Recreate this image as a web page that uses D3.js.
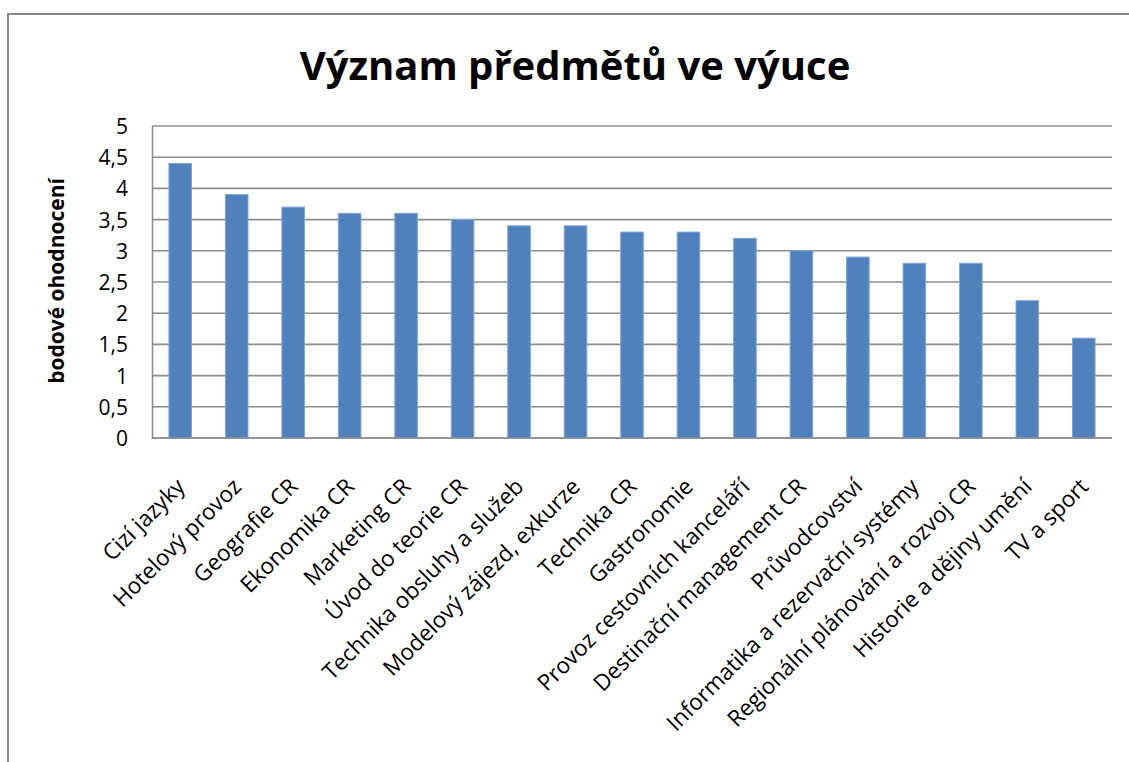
<!DOCTYPE html>
<html><head><meta charset="utf-8">
<script src="https://cdn.jsdelivr.net/npm/d3@7"></script>
<style>body{margin:0;background:#fff}svg{display:block}text{font-family:"Open Sans",Lato,sans-serif;font-variant-ligatures:none}</style>
</head><body>
<svg id="c" width="1129" height="762"></svg>
<script>
const categories = ["Cizí jazyky","Hotelový provoz","Geografie CR","Ekonomika CR","Marketing CR","Úvod do teorie CR","Technika obsluhy a služeb","Modelový zájezd, exkurze","Technika CR","Gastronomie","Provoz cestovních kanceláří","Destinační management CR","Průvodcovství","Informatika a rezervační systémy","Regionální plánování a rozvoj CR","Historie a dějiny umění","TV a sport"];
const values = [4.4,3.9,3.7,3.6,3.6,3.5,3.4,3.4,3.3,3.3,3.2,3.0,2.9,2.8,2.8,2.2,1.6];
const yTicks = [0,0.5,1,1.5,2,2.5,3,3.5,4,4.5,5];
const title = "Význam předmětů ve výuce";
const yTitle = "bodové ohodnocení";

const svg = d3.select("#c");
svg.append("rect").attr("x",8).attr("y",14).attr("width",1140).attr("height",760)
  .attr("fill","#fff").attr("stroke","#888").attr("stroke-width",2);

const L=152,R=1112,T=126,B=438;
const x = d3.scaleBand().domain(categories).range([L,R]).paddingInner(0.6).paddingOuter(0.3);
const y = d3.scaleLinear().domain([0,5]).range([B,T]);

svg.append("g").selectAll("line").data(yTicks).join("line")
  .attr("x1",L).attr("x2",R).attr("y1",d=>y(d)).attr("y2",d=>y(d))
  .attr("stroke","#8c8c8c").attr("stroke-width",1.6);

svg.append("g").selectAll("rect").data(values).join("rect")
  .attr("x",(d,i)=>x(categories[i])).attr("width",x.bandwidth())
  .attr("y",d=>y(d)).attr("height",d=>B-y(d))
  .attr("fill","#4f81bd").attr("stroke","#7fa6d6").attr("stroke-width",1);

// y axis
const ya = svg.append("g").attr("transform",`translate(${L},0)`)
  .call(d3.axisLeft(y).tickValues(yTicks).tickSize(0).tickFormat(d=>String(d).replace(".",",")));
ya.select(".domain").attr("stroke","#8c8c8c").attr("stroke-width",1.6);
ya.selectAll(".tick text").attr("font-size",21).attr("fill","#000").attr("x",-24).attr("dy","0.36em")
  .style("font-family","'Open Sans',sans-serif");

// bottom axis line
svg.append("line").attr("x1",L).attr("x2",R).attr("y1",B).attr("y2",B).attr("stroke","#8c8c8c").attr("stroke-width",1.6);

// x labels
svg.append("g").selectAll("text").data(categories).join("text")
  .attr("transform",d=>`translate(${x(d)+x.bandwidth()/2+6},${B+50}) rotate(-45)`)
  .attr("text-anchor","end").attr("font-size",22.5).attr("fill","#000").text(d=>d);

svg.append("text").attr("x",575).attr("y",80).attr("text-anchor","middle")
  .attr("font-size",40).attr("font-weight","bold").attr("fill","#000").text(title);

svg.append("text").attr("transform",`translate(64,281) rotate(-90)`).attr("text-anchor","middle")
  .attr("font-size",21).attr("font-weight","bold").attr("fill","#000").text(yTitle);
</script>
</body></html>
